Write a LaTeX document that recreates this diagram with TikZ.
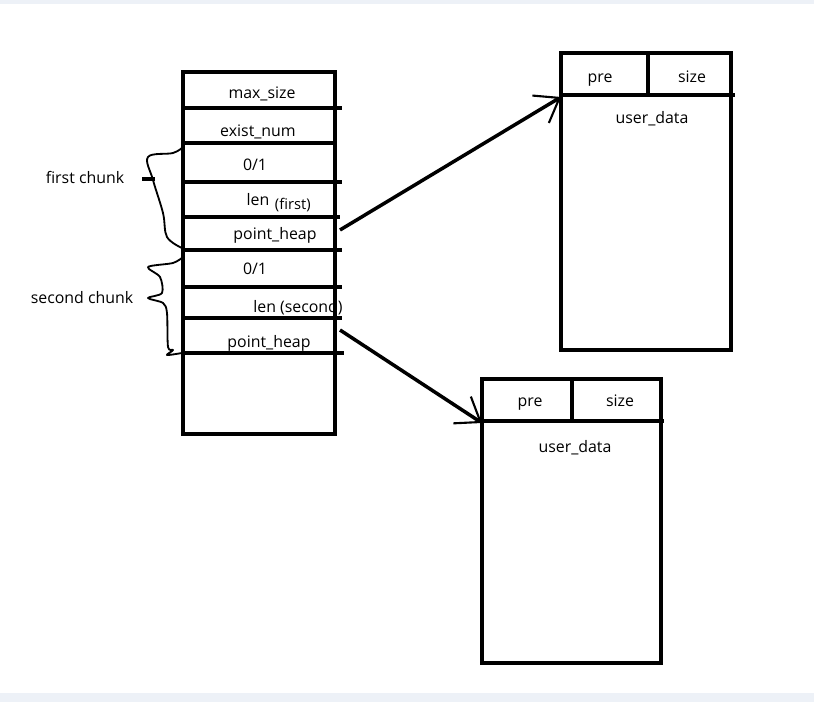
\documentclass[tikz,border=0pt]{standalone}
\usepackage{fontspec}
\setmainfont{Open Sans}
\usepackage{tikz}
\usetikzlibrary{arrows.meta,positioning}
\definecolor{bandgray}{HTML}{EDF1F7}

\begin{document}
\begin{tikzpicture}[every node/.style={font=\fontsize{11.3}{13}\selectfont, text height=0.75em, text depth=0.22em, yshift=-0.05cm},
    thick line/.style={line width=2.5pt},
    brace line/.style={line width=1.3pt, line join=round},
    ptr/.style={line width=2.5pt, -{Straight Barb[length=5.5mm, width=8mm, line width=1.5pt]}}]
                % page and bands
                \useasboundingbox (0,0) rectangle (20.35,17.55);
                \fill[bandgray] (0,17.45) rectangle (20.35,17.55);
                \fill[bandgray] (0,0) rectangle (20.35,0.225);

                % chunk table
                \draw[thick line] (4.575,15.75) rectangle (8.375,6.7);
                \draw[thick line] (4.55,14.85) -- (8.55,14.85);
                \draw[thick line] (4.55,13.975) -- (8.4,13.975);
                \draw[thick line] (4.55,13.0) -- (8.55,13.0);
                \draw[thick line] (4.55,12.125) -- (8.5,12.125);
                \draw[thick line] (4.55,11.3) -- (8.55,11.3);
                \draw[thick line] (4.55,10.375) -- (8.55,10.375);
                \draw[thick line] (4.55,9.6) -- (8.55,9.6);
                \draw[thick line] (4.55,8.725) -- (8.6,8.725);
                \node (maxsize) at (6.55,15.225) {max\_size};
                \node (existnum) at (6.45,14.275) {exist\_num};
                \node (flagA) at (6.375,13.425) {0/1};
                \node (lenA) at (6.45,12.55) {len};
                \node[font=\fontsize{10.5}{12}\selectfont] (lenAnote) at (7.32,12.45) {(first)};
                \node (heapptrA) at (6.875,11.7) {point\_heap};
                \node (flagB) at (6.375,10.825) {0/1};
                \node (lenB) at (7.45,9.875) {len\ (second)};
                \node (heapptrB) at (6.725,9.0) {point\_heap};

                % braces
                \draw[brace line] plot[smooth, tension=0.6] coordinates {(4.575,13.875) (4.325,13.725) (3.7,13.625) (3.825,13.05) (4.075,12.225) (4.175,11.625) (4.55,11.35)};
                \draw[thick line] (3.55,13.075) -- (3.875,13.075);
                \draw[brace line] plot[smooth, tension=0.5] coordinates {(4.575,11.125) (4.325,10.975) (3.7,10.875) (4.0,10.625) (4.05,10.225) (3.7,10.1) (4.075,9.975) (4.175,9.725) (4.2,8.875) (4.325,8.8) (4.175,8.675) (4.55,8.725)};
                \node (firstchunk) at (2.125,13.1) {first chunk};
                \node (secondchunk) at (2.05,10.1) {second chunk};

                % first heap block
                \draw[thick line] (14.025,16.225) rectangle (18.275,8.8);
                \draw[thick line] (14.025,15.175) -- (18.375,15.175);
                \draw[thick line] (16.2,16.225) -- (16.2,15.175);
                \node (preA) at (15.0,15.625) {pre};
                \node (sizeA) at (17.3,15.625) {size};
                \node (dataA) at (16.3,14.6) {user\_data};

                % second heap block
                \draw[thick line] (12.05,8.075) rectangle (16.525,0.975);
                \draw[thick line] (12.05,7.025) -- (16.6,7.025);
                \draw[thick line] (14.3,8.075) -- (14.3,7.025);
                \node (preB) at (13.25,7.525) {pre};
                \node (sizeB) at (15.5,7.525) {size};
                \node (dataB) at (14.375,6.375) {user\_data};

                % pointers
                \coordinate (ptrA) at (8.5,11.85);
                \coordinate (blockA) at (14.025,15.175);
                \coordinate (ptrB) at (8.5,9.35);
                \coordinate (blockB) at (12.05,7.025);
                \draw[ptr] (ptrA) -- (blockA);
                \draw[ptr] (ptrB) -- (blockB);
            \end{tikzpicture}
\end{document}
